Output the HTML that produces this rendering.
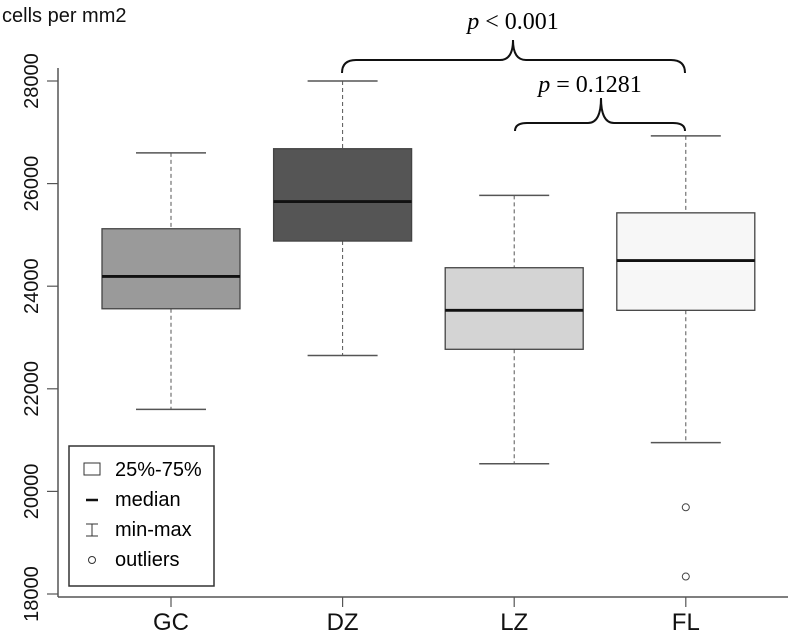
<!DOCTYPE html>
<html><head><meta charset="utf-8"><style>
body{margin:0;background:#fff}
svg{display:block;font-family:"Liberation Sans",sans-serif}
</style></head><body>
<svg id="chart" width="788" height="635" viewBox="0 0 788 635" xmlns="http://www.w3.org/2000/svg">
<text x="2" y="22" font-size="20" fill="#111">cells per mm2</text>
<g id="axes"></g>
<g id="boxes"></g>
<g>
<rect x="69" y="446" width="145" height="140" fill="#fff" stroke="#333" stroke-width="1.5"/>
<rect x="84" y="463" width="16" height="12" fill="#fff" stroke="#333"/>
<text x="115" y="476" font-size="20">25%-75%</text>
<line x1="86" x2="98" y1="500" y2="500" stroke="#111" stroke-width="2.5"/>
<text x="115" y="506" font-size="20">median</text>
<path d="M86 524H98M92 524V536M86 536H98" stroke="#333" fill="none"/>
<text x="115" y="536" font-size="20">min-max</text>
<circle cx="92" cy="560" r="3.5" fill="none" stroke="#333"/>
<text x="115" y="566" font-size="20">outliers</text>
</g>
<g fill="none" stroke="#111" stroke-width="2">
<path d="M342 73 Q342 60 356 60 L500 60 Q513 60 513 40 Q513 60 526 60 L671 60 Q685 60 685 73"/>
<path d="M515 131 Q515 123 527 123 L588 123 Q601 123 601 98 Q601 123 614 123 L673 123 Q685 123 685 131"/>
</g>
<text x="513" y="29" font-size="24" text-anchor="middle" font-family="Liberation Serif,serif"><tspan font-style="italic">p</tspan> &lt; 0.001</text>
<text x="590" y="92" font-size="24" text-anchor="middle" font-family="Liberation Serif,serif"><tspan font-style="italic">p</tspan> = 0.1281</text>
</svg>
<script>
const categories=["GC","DZ","LZ","FL"];
const mins=[21600,22650,20540,20950];
const q1s=[23560,24880,22770,23530];
const medians=[24190,25650,23530,24500];
const q3s=[25120,26680,24360,25430];
const maxs=[26600,28000,25770,26930];
const outliers=[[],[],[],[19690,18340]];
const fills=["#9a9a9a","#555555","#d4d4d4","#f7f7f7"];
const yTicks=[18000,20000,22000,24000,26000,28000];
const NS="http://www.w3.org/2000/svg";
function y(v){return 594-(v-18000)*0.0513;}
function x(i){return 171+i*171.6;}
function mk(tag,attrs,parent){const e=document.createElementNS(NS,tag);for(const k in attrs)e.setAttribute(k,attrs[k]);parent.appendChild(e);return e;}
const axes=document.getElementById('axes'),boxes=document.getElementById('boxes');
let el=mk('line',{x1:58,x2:58,y1:68,y2:597,stroke:'#555','stroke-width':1.5},axes);


el=mk('line',{x1:58,x2:788,y1:597,y2:597,stroke:'#555','stroke-width':1.5},axes);


yTicks.forEach(t=>{
 let l=mk('line',{x1:47,x2:58,y1:y(t),y2:y(t),stroke:'#555','stroke-width':1.2},axes);
 
 
 let tx=mk('text',{x:0,y:0,'font-size':20,'text-anchor':'middle',transform:`translate(38,${y(t)}) rotate(-90)`,fill:'#111'},axes);
 tx.textContent=t;
 
 
});
categories.forEach((c,i)=>{
 const cx=x(i),hw=69,cw=35;
 let l=mk('line',{x1:cx,x2:cx,y1:597,y2:607,stroke:'#555','stroke-width':1.2},axes);
 
 
 let tx=mk('text',{x:cx,y:630,'font-size':24,'text-anchor':'middle',fill:'#111'},axes);
 tx.textContent=c;
 
 
 const g=mk('g',{},boxes);
 
 
 let w=mk('line',{x1:cx,x2:cx,y1:y(maxs[i]),y2:y(q3s[i]),stroke:'#555','stroke-dasharray':'4,3'},g);
 
 
 w=mk('line',{x1:cx,x2:cx,y1:y(q1s[i]),y2:y(mins[i]),stroke:'#555','stroke-dasharray':'4,3'},g);
 
 
 w=mk('line',{x1:cx-cw,x2:cx+cw,y1:y(maxs[i]),y2:y(maxs[i]),stroke:'#555','stroke-width':1.5},g);
 
 
 w=mk('line',{x1:cx-cw,x2:cx+cw,y1:y(mins[i]),y2:y(mins[i]),stroke:'#555','stroke-width':1.5},g);
 
 
 let r=mk('rect',{x:cx-hw,y:y(q3s[i]),width:hw*2,height:y(q1s[i])-y(q3s[i]),fill:fills[i],stroke:'#444','stroke-width':1.3},g);
 
 
 let m=mk('line',{x1:cx-hw,x2:cx+hw,y1:y(medians[i]),y2:y(medians[i]),stroke:'#111','stroke-width':2.8},g);
 
 
 outliers[i].forEach(o=>{
  let ci=mk('circle',{cx:cx,cy:y(o),r:3.5,fill:'#fff',stroke:'#444'},g);
  
  
 });
});
</script>
</body></html>
